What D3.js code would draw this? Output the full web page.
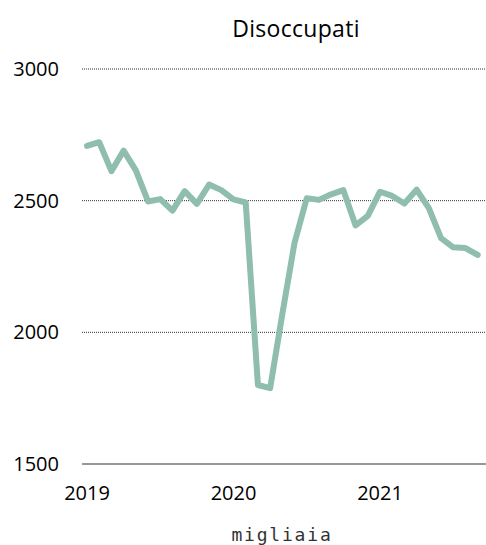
<!DOCTYPE html>
<html>
<head>
<meta charset="utf-8">
<script src="https://cdn.jsdelivr.net/npm/d3@7"></script>
<style>
  html, body { margin: 0; padding: 0; background: #fff; }
  svg { display: block; }
</style>
</head>
<body>
<svg id="chart" width="486" height="545"></svg>
<script>
// Data: monthly unemployed (thousands), Jan 2019 – Sep 2021
const months = d3.range(0, 33); // month index from Jan 2019
const values = [
  2708, 2722, 2612, 2690, 2615, 2497, 2506, 2462, 2536, 2488, 2561, 2540,
  2505, 2493, 1800, 1788, 2070, 2340, 2509, 2503, 2524, 2540, 2406, 2442,
  2534, 2518, 2489, 2542, 2472, 2358, 2323, 2320, 2294
];
const yTicks = [1500, 2000, 2500, 3000];
const xTickMonths = [0, 12, 24];
const xTickLabels = ["2019", "2020", "2021"];
const title = "Disoccupati";
const unitLabel = "migliaia";

const svg = d3.select("#chart");
const font = "'Open Sans', 'Noto Sans', sans-serif";

const x = d3.scaleLinear().domain([0, 24]).range([87, 380]);
const y = d3.scaleLinear().domain([1500, 3000]).range([464, 69]);
const left = 82, right = 486;

// Title
svg.append("text")
  .attr("x", 296).attr("y", 37)
  .attr("text-anchor", "middle")
  .attr("font-family", font).attr("font-size", 23)
  .attr("letter-spacing", 0.3)
  .attr("fill", "#000")
  .text(title);

// Gridlines (dotted) and baseline
yTicks.forEach(t => {
  const g = svg.append("line")
    .attr("x1", left).attr("x2", right)
    .attr("y1", y(t)).attr("y2", y(t));
  if (t === 1500) {
    g.attr("stroke", "#333").attr("stroke-width", 1.2);
  } else {
    g.attr("stroke", "#333").attr("stroke-width", 1).attr("stroke-dasharray", "1,1");
  }
  svg.append("text")
    .attr("x", 59).attr("y", y(t))
    .attr("dy", "0.35em")
    .attr("text-anchor", "end")
    .attr("font-family", font).attr("font-size", 20)
    .attr("fill", "#000")
    .text(t);
});

// X tick labels
xTickMonths.forEach((m, i) => {
  svg.append("text")
    .attr("x", x(m)).attr("y", 500)
    .attr("text-anchor", "middle")
    .attr("font-family", font).attr("font-size", 20)
    .attr("fill", "#000")
    .text(xTickLabels[i]);
});

// Line
const line = d3.line()
  .x((d, i) => x(months[i]))
  .y(d => y(d));

svg.append("path")
  .datum(values)
  .attr("d", line)
  .attr("fill", "none")
  .attr("stroke", "#8fbdae")
  .attr("stroke-width", 6)
  .attr("stroke-linejoin", "round")
  .attr("stroke-linecap", "round");

// Unit label
svg.append("text")
  .attr("x", 282).attr("y", 541)
  .attr("text-anchor", "middle")
  .attr("font-family", "'DejaVu Sans Mono', 'Liberation Mono', monospace")
  .attr("font-size", 18)
  .attr("letter-spacing", 1.8)
  .attr("fill", "#333")
  .text(unitLabel);
</script>
</body>
</html>
